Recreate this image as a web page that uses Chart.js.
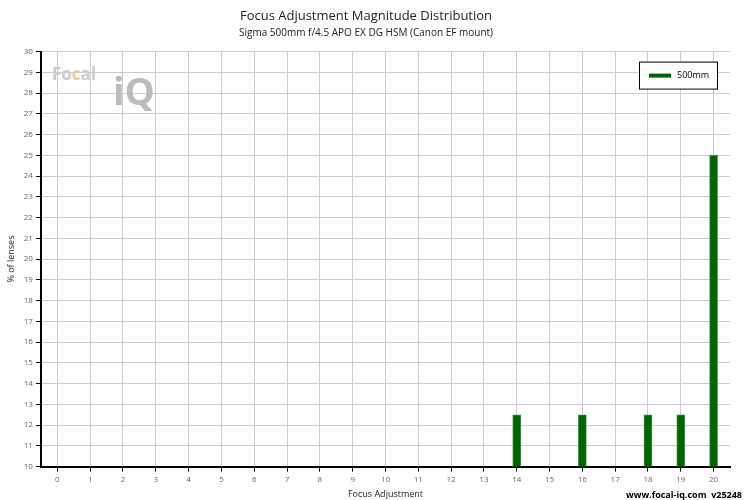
<!DOCTYPE html>
<html><head><meta charset="utf-8">
<script src="https://cdn.jsdelivr.net/npm/chart.js@4"></script>
<style>body{margin:0;background:#fff}#w{position:relative;width:750px;height:500px}</style>
</head><body><div id="w"><canvas id="c" width="750" height="500"></canvas>
<div style="position:absolute;left:52px;top:62px;font:bold 17px 'Open Sans';color:#ccc">Fo<span style="color:#efc9a0">c</span>al</div>
<div style="position:absolute;left:113px;top:64px;font:bold 38px 'Open Sans';color:#bbb">iQ</div>
<div style="position:absolute;right:8px;top:488px;font:bold 9px 'Open Sans';color:#000">www.focal-iq.com&nbsp; v25248</div>
</div>
<script>
const categories = ["0","1","2","3","4","5","6","7","8","9","10","11","12","13","14","15","16","17","18","19","20"];
const values = [null,null,null,null,null,null,null,null,null,null,null,null,null,null,12.5,null,12.5,null,12.5,12.5,25];
const yTicks = {min:10,max:30,step:1};
new Chart(document.getElementById('c'),{
 type:'bar',
 data:{labels:categories,datasets:[{label:'500mm',data:values,backgroundColor:'#006400',borderColor:'#3d8a3d',borderWidth:1,barThickness:8}]},
 options:{responsive:false,animation:false,
  layout:{padding:{left:2,right:20,top:4,bottom:0}},
  plugins:{
   title:{display:true,text:'Focus Adjustment Magnitude Distribution',font:{family:'Open Sans',size:13,weight:'normal'},color:'#222',padding:{top:4,bottom:4}},
   subtitle:{display:true,text:'Sigma 500mm f/4.5 APO EX DG HSM (Canon EF mount)',font:{family:'Open Sans',size:10},color:'#222',padding:{bottom:12}},
   legend:{display:false}
  },
  scales:{
   x:{offset:true,grid:{offset:false,color:'#ccc',tickColor:'#000',tickLength:5},border:{color:'#000',width:2},
      ticks:{font:{family:'Open Sans',size:8},color:'#666',maxRotation:0,autoSkip:false},
      title:{display:true,text:'Focus Adjustment',font:{family:'Open Sans',size:9},color:'#222',padding:{top:2,bottom:0}}},
   y:{min:yTicks.min,max:yTicks.max,grid:{color:'#ccc',tickColor:'#000',tickLength:5},border:{color:'#000',width:2},
      ticks:{stepSize:yTicks.step,font:{family:'Open Sans',size:8},color:'#666'},
      title:{display:true,text:'% of lenses',font:{family:'Open Sans',size:9},color:'#222'}}
  }
 },
 plugins:[{id:'lg',afterDraw(ch){const c=ch.ctx;const a=ch.chartArea;const x=a.right-91,y=a.top+10;
  c.save();c.fillStyle='#fff';c.fillRect(x,y,78,27);c.strokeStyle='#000';c.lineWidth=1;c.strokeRect(x+.5,y+.5,78,27);
  c.fillStyle='#006400';c.fillRect(x+10,y+12,22,4);
  c.fillStyle='#000';c.font="9px 'Open Sans'";c.textBaseline='middle';c.fillText('500mm',x+38,y+14);c.restore();}}]
});
</script></body></html>
